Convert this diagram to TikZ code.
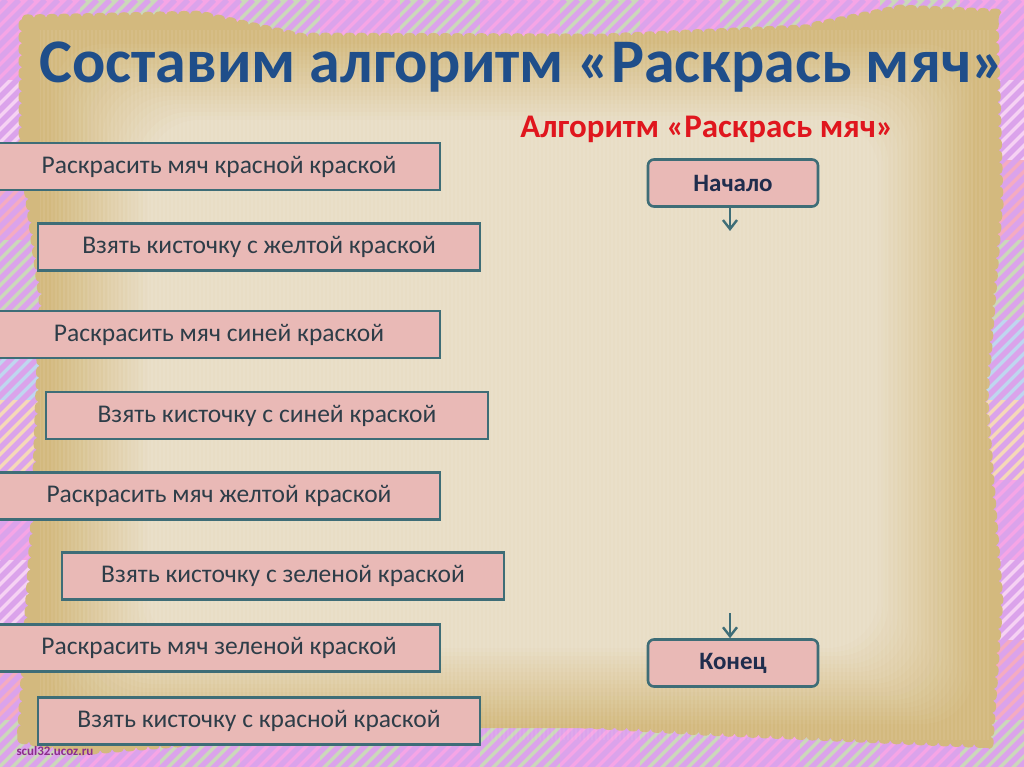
\documentclass[tikz,border=0pt]{standalone}
\usepackage{fontspec}
\setmainfont{Carlito}
\usetikzlibrary{arrows.meta,decorations.pathmorphing}
\definecolor{bg0}{HTML}{F6A5E6}
\definecolor{bg1}{HTML}{F5EFA5}
\definecolor{bg2}{HTML}{A8ECF3}
\definecolor{bg3}{HTML}{B9EFA8}
\definecolor{bg4}{HTML}{F5AFB2}
\definecolor{bg5}{HTML}{F7E6FA}
\definecolor{lav}{HTML}{D0A3EE}
\definecolor{parchL}{HTML}{E8DDC5}
\definecolor{parchG}{HTML}{D3B97E}
\definecolor{boxfill}{HTML}{E9B9B6}
\definecolor{boxline}{HTML}{3E6D77}
\definecolor{boxtext}{HTML}{2E3D48}
\definecolor{titleblue}{HTML}{1F4E8A}
\definecolor{subred}{HTML}{E0161E}
\definecolor{navy}{HTML}{1F2D4D}
\definecolor{wm}{HTML}{8B2E8B}
\begin{document}
\begin{tikzpicture}[x=1pt,y=-1pt,
  stepbox/.style={draw=boxline, line width=2.6pt, fill=boxfill, minimum width=442pt, minimum height=47pt,
    inner sep=0pt, text=boxtext, font=\fontsize{25.5}{30}\selectfont},
  termbox/.style={draw=boxline, line width=2.6pt, fill=boxfill, rounded corners=6pt, minimum width=170pt,
    minimum height=47pt, inner sep=0pt, text=navy, font=\fontsize{25}{30}\selectfont\bfseries},
  arr/.style={draw=boxline, line width=2.4pt, -{Straight Barb[length=9pt,width=14pt]}},
  parchedge/.style={decorate, decoration={bumps, segment length=24pt, amplitude=3.5pt}}
]
\useasboundingbox (0,0) rectangle (1024,767);
\clip (0,0) rectangle (1024,767);
% background blocks
\foreach \i in {0,...,12}{
  \foreach \j in {0,...,9}{
    \pgfmathtruncatemacro\c{mod(\i*3+\j*5+\i*\j*2,6)}
    \fill[bg\c] (\i*80,\j*80) rectangle ++(80,80);
  }
}
% diagonal stripes
\foreach \k in {-800,-787,...,1040}{
  \draw[lav, line width=5.5pt] (\k,780) -- (\k+780,0);
}
\fill[bg0, opacity=0.3] (0,0) rectangle (1024,767);
% parchment
\path[fill=parchG, parchedge] (22,18) -- (200,14) -- (300,36) -- (600,37) -- (800,28) -- (900,8) -- (995,12)
  -- (1000,200) -- (985,400) -- (1000,600) -- (990,745) -- (700,732) -- (500,720) -- (400,726)
  -- (80,752) -- (20,740) -- (35,500) -- (42,300) -- (22,150) -- cycle;
\foreach \s in {0,...,20}{
  \pgfmathsetmacro\pc{\s*5}
  \fill[parchL!\pc!parchG, rounded corners=50pt] (48+\s*5,40+\s*4) rectangle (978-\s*5,728-\s*4);
}
\begin{scope}
  \clip (40,30) rectangle (990,740);
  \foreach \x in {40,44,...,990}{
    \draw[white, opacity=0.07, line width=1.5pt] (\x,30) -- (\x,740);
  }
\end{scope}
% title
\node[text=titleblue, font=\fontsize{62}{66}\selectfont\bfseries] (title) at (522,67) {Составим алгоритм «Раскрась мяч»};
\node[text=subred, font=\fontsize{33}{36}\selectfont\bfseries] (sub) at (707,129) {Алгоритм «Раскрась мяч»};
% step boxes
\node[stepbox] (b1) at (219,166.5) {Раскрасить мяч красной краской};
\node[stepbox] (b2) at (259,247) {Взять кисточку с желтой краской};
\node[stepbox] (b3) at (219,334.5) {Раскрасить мяч синей краской};
\node[stepbox] (b4) at (267,415.5) {Взять кисточку с синей краской};
\node[stepbox] (b5) at (219,496) {Раскрасить мяч желтой краской};
\node[stepbox] (b6) at (283,576) {Взять кисточку с зеленой краской};
\node[stepbox] (b7) at (219,648) {Раскрасить мяч зеленой краской};
\node[stepbox] (b8) at (259,721) {Взять кисточку с красной краской};
% start / end
\node[termbox] (start) at (733,183) {Начало};
\node[termbox] (end) at (733,663) {Конец};
\coordinate (e1) at (730,231);
\coordinate (e2) at (730,613);
\draw[arr] (start.south -| e1) -- (e1);
\draw[arr] (e2) -- (e2 |- end.north);
% watermark
\node[text=wm, font=\fontsize{13}{15}\selectfont\bfseries, anchor=west] (wmark) at (13,751) {scul32.ucoz.ru};
\end{tikzpicture}
\end{document}
